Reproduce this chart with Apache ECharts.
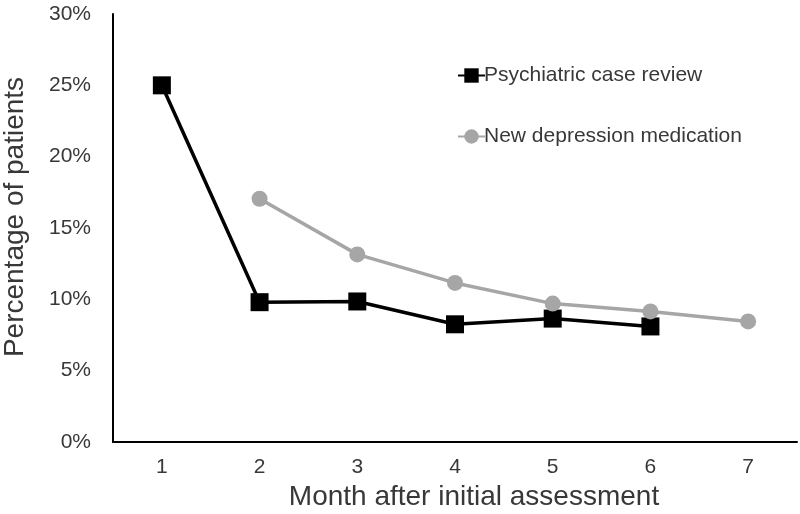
<!DOCTYPE html>
<html><head><meta charset="utf-8">
<script src="https://cdn.jsdelivr.net/npm/echarts@6/dist/echarts.min.js"></script>
<style>html,body{margin:0;padding:0;background:#fff}#c{width:800px;height:514px}</style>
</head><body><div id="c"></div>
<script>
var months = ['1','2','3','4','5','6','7'];
var psychiatric = [25.0, 9.8, 9.85, 8.25, 8.65, 8.1, null];
var newMedication = [null, 17.05, 13.15, 11.15, 9.7, 9.15, 8.45];
var yTicks = [0, 5, 10, 15, 20, 25, 30];

var chart = echarts.init(document.getElementById('c'));
var txt = '#383838';
chart.setOption({
  animation: false,
  backgroundColor: '#fff',
  grid: {left: 113, right: 3, top: 14, bottom: 72, containLabel: false, outerBoundsMode: 'none'},
  legend: {
    left: 452, top: 60, orient: 'vertical', itemGap: 40,
    itemWidth: 27, itemHeight: 18,
    textStyle: {fontFamily: 'Liberation Sans', fontSize: 21, lineHeight: 20, color: txt, padding: [0,0,0,-6]},
    data: ['Psychiatric case review', 'New depression medication']
  },
  xAxis: {
    type: 'category', data: months, boundaryGap: true,
    name: 'Month after initial assessment', nameLocation: 'middle', nameGap: 37,
    nameTextStyle: {fontFamily: 'Liberation Sans', fontSize: 28, color: txt, padding: [0,0,0,38]},
    axisLine: {lineStyle: {color: '#000', width: 2}},
    axisTick: {show: false},
    axisLabel: {fontFamily: 'Liberation Sans', fontSize: 21, color: txt, margin: 15}
  },
  yAxis: {
    type: 'value', min: 0, max: 30, interval: 5,
    name: 'Percentage of patients', nameLocation: 'middle', nameGap: 84, nameRotate: 90,
    nameTextStyle: {fontFamily: 'Liberation Sans', fontSize: 28, color: txt, padding: [0,0,0,22]},
    axisLine: {show: true, lineStyle: {color: '#000', width: 2}},
    axisTick: {show: false},
    splitLine: {show: false},
    axisLabel: {fontFamily: 'Liberation Sans', fontSize: 21, color: txt, margin: 22,
      formatter: function(v){ return yTicks.indexOf(v) >= 0 ? v + '%' : ''; }}
  },
  series: [
    {
      name: 'Psychiatric case review', type: 'line', data: psychiatric,
      symbol: 'rect', symbolSize: 18, connectNulls: false,
      itemStyle: {color: '#000'}, lineStyle: {color: '#000', width: 3.5}, z: 2
    },
    {
      name: 'New depression medication', type: 'line', data: newMedication,
      symbol: 'circle', symbolSize: 16,
      itemStyle: {color: '#a6a6a6'}, lineStyle: {color: '#a6a6a6', width: 3.5}, z: 3
    }
  ]
});
</script></body></html>
